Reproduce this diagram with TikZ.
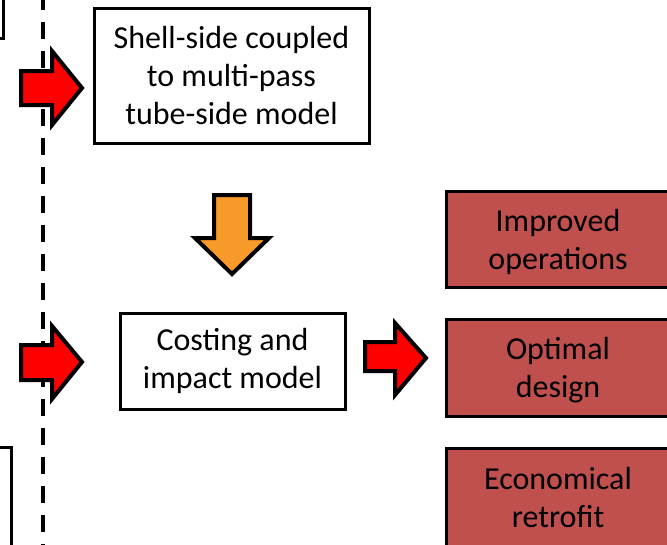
\documentclass[tikz,border=0pt]{standalone}
\usepackage{fontspec}
\setmainfont{Carlito}
\definecolor{outred}{HTML}{C0504D}
\definecolor{flowred}{HTML}{FF0000}
\definecolor{floworange}{HTML}{F79A2A}
\begin{document}
\begin{tikzpicture}[x=1pt,y=-1pt,
  txt/.style={align=center,font=\fontsize{32}{38}\selectfont},
  box/.style={draw=black,line width=3pt,fill=white,txt},
  outbox/.style={draw=black,line width=3pt,fill=outred,anchor=west,minimum width=260pt},
  blockarrow/.style={draw=black,line width=4pt,line join=miter,miter limit=10}]
\path[use as bounding box] (0,0) rectangle (667,544);
\begin{scope}
\clip (0,0) rectangle (667,544);
% partial boxes cut by the frame
\draw[line width=3pt] (-60,-60) rectangle (3,38);
\draw[line width=3pt] (-60,447) rectangle (11,600);
% separator
\draw[line width=4pt,dash pattern=on 17pt off 12pt] (43,-7) -- (43,560);
% model boxes
\node[box,minimum width=275pt,minimum height=135pt] (shell) at (231.5,75.5) {Shell-side coupled\\to multi-pass\\tube-side model};
\node[box,minimum width=225pt,minimum height=96pt] (cost) at (232.5,361) {Costing and\\impact model};
% outcome boxes
\node[outbox,minimum height=96pt] (ops) at (445,239) {};
\node[outbox,minimum height=97pt] (opt) at (445,367.5) {};
\node[outbox,minimum height=120pt] (eco) at (445,508) {};
\node[txt] (opslabel) at (558,242) {Improved\\operations};
\node[txt] (optlabel) at (558,370) {Optimal\\design};
\node[txt] (ecolabel) at (558,498) {Economical\\retrofit};
% block arrows
\draw[blockarrow,fill=flowred] (21,71) -- (52,71) -- (52,51) -- (82,88) -- (52,125) -- (52,105) -- (21,105) -- cycle;
\draw[blockarrow,fill=flowred] (21,345) -- (52,345) -- (52,326) -- (82,362) -- (52,399) -- (52,380) -- (21,380) -- cycle;
\draw[blockarrow,fill=flowred] (365,342) -- (395,342) -- (395,323) -- (426,358) -- (395,395) -- (395,371) -- (365,371) -- cycle;
\draw[blockarrow,fill=floworange] (214,195) -- (250,195) -- (250,238) -- (269,238) -- (232,274) -- (195,238) -- (214,238) -- cycle;
\end{scope}
\end{tikzpicture}
\end{document}
